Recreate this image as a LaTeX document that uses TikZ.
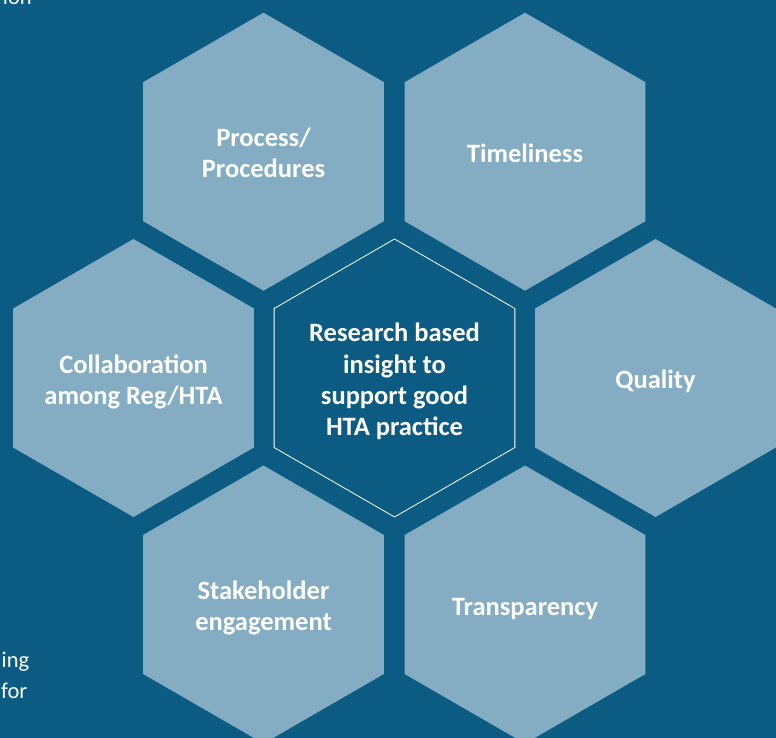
\documentclass[tikz,border=0pt]{standalone}
\usepackage{fontspec}
\setmainfont{Carlito}
\usetikzlibrary{shapes.geometric, positioning}
% lines of a hexagon, kept from widening the shape
\newcommand\hexlines[1]{\raisebox{-10.6pt}[0pt][0pt]{\makebox[0pt]{\begin{tabular}{@{}c@{}}#1\end{tabular}}}}

\begin{document}
\begin{tikzpicture}[x=1pt, y=-1pt, line cap=round,
    %Style
    hex/.style={regular polygon, regular polygon sides=6, regular polygon rotate=30,
      minimum size=278pt, inner sep=0pt, text=white,
      font=\fontsize{26.5}{31.1}\selectfont\bfseries},
    outer hex/.style={hex, fill=hexcolor},
    core hex/.style={hex, draw=white, line width=0.8pt, fill=bgcolor},
    side text/.style={text=white, inner sep=0pt, anchor=base east,
      font=\fontsize{22.5}{31}\selectfont}]
    %Colors
    \definecolor{bgcolor}{RGB}{11,91,130}
    \definecolor{hexcolor}{RGB}{132,173,196}
    %The graphic
    \useasboundingbox (0,0) rectangle (776,738);
    \clip (0,0) rectangle (776,738);
    \fill[bgcolor] (0,0) rectangle (776,738);

    % text running off the page
    \node[side text] (sidetop) at (32,5) {ion};
    \node[side text] (sideing) at (29.5,667) {ing};
    \node[side text] (sidefor) at (27.5,698) {for};

    \node[outer hex] (process) at (263.5,151.7) {\hexlines{Process/\\Procedures}};
    \node[outer hex] (timeliness) at (525,151.7) {\hexlines{Timeliness}};
    \node[outer hex] (collab) at (133.5,378) {\hexlines{Collaboration\\among Reg/HTA}};
    \node[core hex] (core) at (394.5,378) {\hexlines{Research based\\insight to\\support good\\HTA practice}};
    \node[outer hex] (quality) at (655.5,378) {\hexlines{Quality}};
    \node[outer hex] (stakeholder) at (263.5,604.5) {\hexlines{Stakeholder\\engagement}};
    \node[outer hex] (transparency) at (525,604.5) {\hexlines{Transparency}};
\end{tikzpicture}
\end{document}
